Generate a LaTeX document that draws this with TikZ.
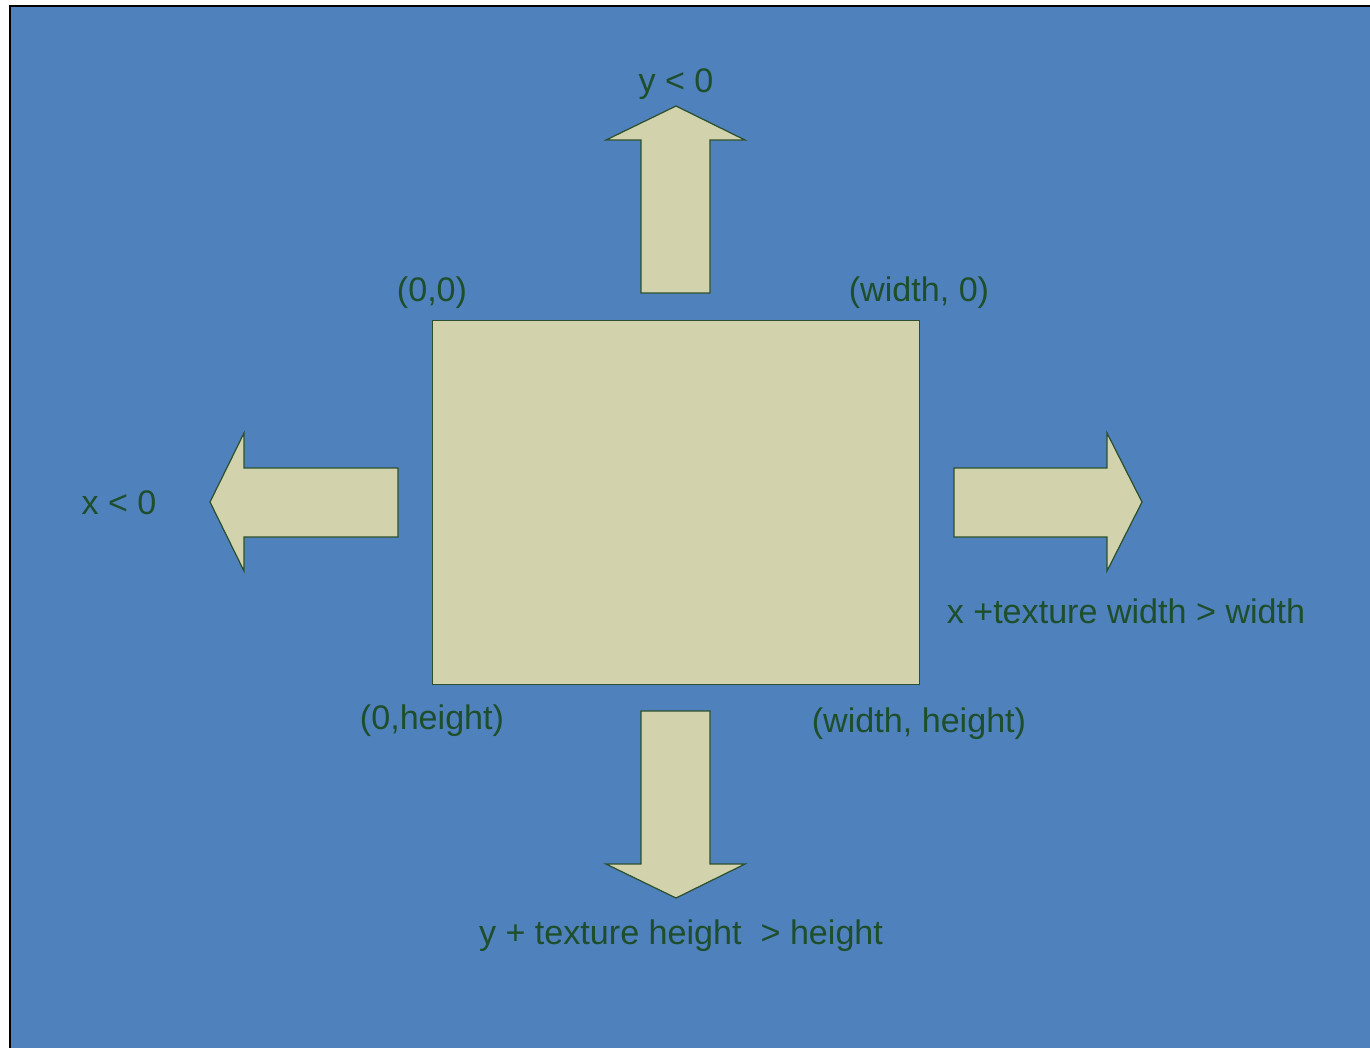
\documentclass[tikz,border=0pt]{standalone}
\usepackage{fontspec}
\setmainfont{Liberation Sans}
\definecolor{canvasblue}{HTML}{4F81BD}
\definecolor{blockfill}{HTML}{D2D3AC}
\definecolor{blockline}{HTML}{2C4F2E}
\definecolor{labelgreen}{HTML}{1E4E2B}
\tikzset{
  block/.style={fill=blockfill, draw=blockline, line width=0.35pt, line join=miter},
  lbl/.style={text=labelgreen, anchor=base, inner sep=0pt,
              font=\fontsize{9.7pt}{11pt}\selectfont},
}
\begin{document}
\begin{tikzpicture}[x=0.01cm, y=-0.01cm]
  \useasboundingbox (0,0) rectangle (1370,1047);
  \fill[white] (0,0) rectangle (1370,1047);
  % canvas
  \fill[canvasblue] (10,6) rectangle (1372,1050);
  \draw[black, line width=0.6pt] (10,1050) -- (10,6) -- (1372,6);

  % texture rectangle
  \node[block, minimum width=487*0.01cm, minimum height=364*0.01cm, inner sep=0pt,
        anchor=north west] (tex) at (432,320) {};

  % up arrow
  \draw[block] (641,293) -- (641,140) -- (606,140) -- (676,106) -- (745,140)
               -- (710,140) -- (710,293) -- cycle;
  % down arrow
  \draw[block] (641,711) -- (641,864) -- (606,864) -- (676,898) -- (745,864)
               -- (710,864) -- (710,711) -- cycle;
  % left arrow
  \draw[block] (398,468) -- (244,468) -- (244,433) -- (210,502) -- (244,571)
               -- (244,537) -- (398,537) -- cycle;
  % right arrow
  \draw[block] (954,468) -- (1107,468) -- (1107,433) -- (1142,502) -- (1107,571)
               -- (1107,537) -- (954,537) -- cycle;

  % labels
  \node[lbl] (ylt) at (676,92) {y < 0};
  \node[lbl] (tl) at (432,301) {(0,0)};
  \node[lbl] (tr) at (919,301) {(width, 0)};
  \node[lbl] (xlt) at (119,514) {x < 0};
  \node[lbl] (xgt) at (1126,623) {x +texture width > width};
  \node[lbl] (bl) at (432,729) {(0,height)};
  \node[lbl] (br) at (919,732) {(width, height)};
  \node[lbl] (ygt) at (681,944) {y + texture height\ \ > height};
\end{tikzpicture}
\end{document}
